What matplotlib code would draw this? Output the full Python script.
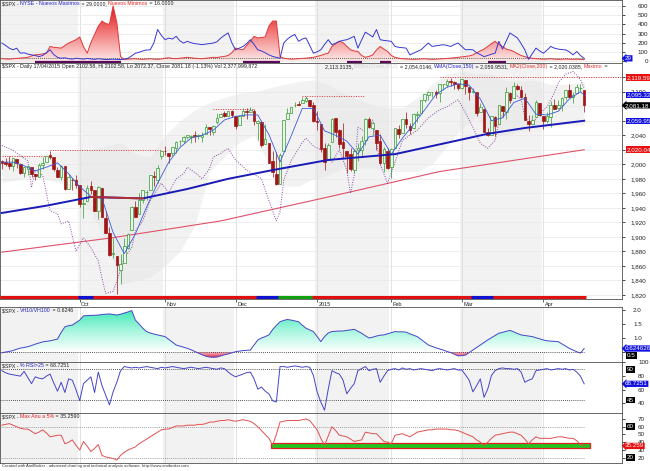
import numpy as np
import matplotlib.pyplot as plt
from matplotlib.colors import LinearSegmentedColormap
from matplotlib.patches import Rectangle
from matplotlib.transforms import blended_transform_factory, ScaledTranslation

plt.rcParams['font.family'] = ['Liberation Sans', 'DejaVu Sans']

# $SPX diario 02/09/2014 - 17/04/2015
open_ = [2004,2003,2002,1998,2007,2001,1988,1993,1996,1986,
         1982,1999,2003,2013,2010,1992,1983,1997,1966,1979,
         1978,1972,1946,1949,1970,1964,1936,1968,1926,1905,
         1877,1874,1855,1864,1885,1910,1941,1931,1951,1962,
         1964,1984,1979,2011,2019,2016,2015,2023,2032,2032,
         2038,2038,2040,2039,2038,2042,2052,2045,2058,2065,
         2070,2067,2074,2066,2054,2067,2074,2072,2074,2057,
         2058,2028,2030,2005,1986,1973,2019,2062,2070,2081,
         2083,2084,2087,2089,2082,2059,2055,2022,2006,2031,
         2064,2047,2031,2019,2014,1992,2020,2020,2034,2063,
         2050,2047,2032,2002,2019,1996,2022,2048,2043,2062,
         2053,2050,2068,2071,2089,2096,2099,2099,2098,2110,
         2109,2115,2114,2111,2105,2116,2107,2099,2100,2072,
         2076,2045,2041,2065,2055,2080,2072,2098,2091,2108,
         2103,2092,2060,2056,2065,2084,2067,2060,2065,2081,
         2077,2081,2092,2102,2092,2098,2105,2102.58]
high = [2006,2009,2011,2008,2007,2002,1996,1997,1996,1987,
        2002,2010,2012,2019,2010,1996,1999,1997,1987,1981,
        1985,1972,1952,1972,1977,1964,1970,1968,1935,1913,
        1898,1874,1876,1898,1905,1942,1950,1961,1965,1964,
        1985,1991,1999,2018,2025,2016,2024,2032,2034,2039,
        2041,2040,2046,2042,2044,2056,2052,2054,2071,2071,
        2074,2074,2075,2066,2068,2077,2077,2079,2076,2061,
        2059,2056,2030,2019,2017,2016,2061,2077,2079,2086,
        2087,2093,2094,2089,2086,2073,2055,2030,2030,2064,
        2064,2049,2057,2019,2022,2021,2029,2039,2064,2065,
        2058,2047,2042,2024,2023,2022,2050,2054,2063,2072,
        2057,2070,2073,2089,2097,2101,2100,2102,2111,2111,
        2117,2119,2115,2111,2118,2116,2107,2105,2100,2085,
        2076,2050,2066,2066,2081,2080,2107,2099,2114,2110,
        2108,2098,2068,2068,2089,2084,2067,2072,2087,2090,
        2089,2093,2102,2110,2099,2111,2111,2102.58]
low = [1994,1998,1993,1991,1995,1986,1982,1985,1983,1979,
       1982,1994,2003,2007,1991,1983,1978,1965,1966,1964,
       1968,1941,1926,1949,1959,1935,1925,1927,1906,1874,
       1871,1821,1835,1864,1883,1910,1927,1931,1947,1951,
       1964,1970,1974,2007,2013,2002,2012,2016,2025,2030,
       2035,2030,2031,2035,2031,2042,2040,2041,2056,2065,
       2065,2066,2065,2049,2054,2066,2062,2072,2054,2034,
       2024,2028,2002,1982,1972,1973,2019,2062,2070,2079,
       2081,2084,2086,2079,2058,2047,2017,1992,2006,2031,
       2038,2023,2009,1988,1991,1988,2005,2012,2026,2050,
       2041,2020,2001,1990,1994,1981,2022,2036,2043,2050,
       2042,2048,2058,2071,2086,2089,2093,2091,2086,2103,
       2106,2108,2104,2103,2104,2097,2089,2098,2066,2072,
       2044,2039,2041,2039,2055,2065,2062,2085,2091,2103,
       2091,2061,2046,2056,2065,2067,2048,2057,2052,2076,
       2076,2074,2088,2092,2084,2098,2101,2072.37]
close = [2002,2001,1998,2008,2002,1988,1996,1997,1986,1984,
         1999,2002,2011,2010,1994,1983,1998,1966,1983,1978,
         1972,1946,1946,1968,1965,1935,1969,1928,1906,1875,
         1878,1862,1863,1887,1904,1941,1927,1951,1965,1962,
         1985,1982,1995,2018,2018,2012,2024,2031,2032,2038,
         2040,2038,2039,2040,2041,2052,2049,2053,2064,2069,
         2067,2073,2068,2053,2067,2074,2072,2075,2060,2060,
         2026,2035,2002,1990,1973,2013,2061,2071,2079,2082,
         2082,2089,2091,2080,2059,2058,2021,2003,2026,2062,
         2045,2028,2023,2011,1993,2019,2023,2032,2063,2052,
         2057,2030,2002,2021,1995,2021,2050,2042,2063,2055,
         2047,2069,2069,2088,2097,2100,2100,2097,2110,2110,
         2115,2114,2111,2105,2117,2108,2099,2101,2071,2079,
         2044,2040,2066,2053,2081,2074,2100,2089,2108,2104,
         2092,2061,2056,2061,2086,2068,2060,2067,2081,2076,
         2082,2091,2102,2092,2096,2107,2105,2081.18]

month_idx = [21, 44, 63, 85, 105, 124, 146]
month_lbl = ['Oct', 'Nov', 'Dec', '2015', 'Feb', 'Mar', 'Apr']
month_edges = [0, 21, 44, 63, 85, 105, 124, 146, 168]

# NYSE nuevos maximos / nuevos minimos
new_highs = [196,170,140,122,140,85,90,75,67,60,
             48,60,90,122,70,40,30,35,25,20,
             30,25,20,28,22,18,25,20,15,18,
             20,18,15,20,30,55,85,95,110,120,
             122,200,344,280,233,250,240,270,220,196,
             215,200,190,185,178,185,190,196,210,250,
             280,307,200,122,140,159,190,233,180,122,
             110,90,67,50,40,30,196,240,270,289,
             215,240,252,170,85,100,122,180,233,178,
             195,215,225,233,250,270,141,230,315,290,
             263,344,233,225,220,215,159,150,145,141,
             67,85,105,122,160,196,159,165,172,178,
             170,159,180,196,160,122,125,122,90,70,
             48,60,75,85,215,130,220,307,280,252,
             190,122,18,80,141,110,85,120,159,140,
             130,125,122,100,67,104,60,29]
new_lows = [25,22,20,25,28,30,35,40,55,67,
            70,78,85,159,150,145,141,170,196,215,
            233,263,159,85,200,289,380,437,410,400,
            603,418,48,18,20,22,25,20,18,22,
            25,20,18,22,30,35,28,25,30,35,
            40,35,30,28,25,30,35,40,38,45,
            50,60,90,141,130,122,170,215,270,252,
            258,263,381,437,437,48,30,25,20,22,
            25,28,30,35,40,50,60,75,85,159,
            190,215,200,160,122,110,104,60,40,50,
            67,120,159,130,104,60,40,30,25,22,
            20,18,20,22,25,20,18,20,22,25,
            28,30,35,40,45,50,55,67,90,110,
            130,159,190,215,180,159,130,120,104,80,
            60,48,35,30,25,22,20,22,25,20,
            18,20,22,20,18,20,18,16]
lows_zone = [(9, 32), (65, 75), (93, 97), (102, 105), (131, 136)]

# lineas del panel de precio (puntos leidos cada pocos dias)
fast_idx = [0,3,6,9,12,15,18,21,24,27,30,33,36,39,42,45,48,51,54,57,60,63,66,69,72,75,
            78,81,84,87,90,93,96,99,102,105,108,111,114,117,120,123,126,129,132,135,138,
            141,144,147,150,153,156,157]
fast_val = [2003,2003,1998,1991,1996,2002,1987,1969,1956,1953,1906,1877,1904,1941,1974,2003,
            2023,2036,2040,2047,2061,2066,2068,2068,2041,2003,2039,2077,2077,2046,2040,2032,
            2014,2038,2040,2014,2036,2055,2075,2096,2106,2111,2109,2090,2060,2064,2085,2091,
            2069,2068,2073,2090,2100,2095.3]
wma_idx = [0, 12, 24, 31, 38, 50, 61, 73, 88, 106, 123, 131, 141, 157]
wma_val = [1933, 1943, 1955, 1954, 1953, 1966, 1980, 1992, 2006, 2014, 2033, 2042, 2050, 2059.95]
wma_red_idx = [24, 31, 38]
wma_red_val = [1955, 1954, 1953]
ma200_idx = [0, 30, 59, 88, 118, 157]
ma200_val = [1879, 1899, 1922, 1955, 1990, 2020.04]
band_idx = [0,10,18,24,28,32,36,40,44,48,52,56,60,64,68,72,76,80,84,88,92,96,100,104,108,
            112,116,120,124,128,132,136,140,144,148,152,157]
band_hi = [2015,2012,2020,2020,2025,2030,2015,2010,2040,2060,2075,2085,2092,2098,2100,2105,
           2110,2114,2116,2110,2098,2090,2082,2078,2078,2092,2110,2125,2128,2125,2125,2115,
           2115,2115,2110,2110,2113.31]
band_lo = [1975,1983,1970,1935,1895,1835,1840,1845,1860,1880,1915,1990,2010,2030,2040,2000,
           1970,1970,1980,1985,1995,1995,1995,1990,1990,1990,2000,2025,2050,2065,2040,2040,
           2045,2050,2052,2055,2054.01]
purple_idx = [0,3,7,8,9,11,13,15,16,18,20,22,23,24,26,27,28,30,31,33,35,36,38,40,43,45,47,
              49,50,53,54,56,57,59,61,63,66,70,72,74,75,76,78,81,82,84,88,89,91,93,94,95,96,
              98,100,102,104,106,108,112,115,118,120,123,125,127,129,131,133,134,136,138,
              140,141,143,145,147,149,150,152,154,156,157]
purple_val = [2026,2019,2005,1968,1992,1985,1936,1932,1918,1922,1880,1899,1892,1885,1867,
              1843,1822,1825,1839,1871,1885,1908,1922,1950,1974,1961,1980,1987,1996,1985,
              1980,1994,2010,2015,2022,2006,1992,1980,1950,1922,1935,1978,2005,2030,2036,
              2025,2015,2003,2020,1992,1960,1985,2051,2045,2061,2000,1974,2003,2033,2047,
              2064,2075,2079,2089,2071,2051,2029,2022,2033,2058,2078,2099,2089,2065,2055,
              2070,2079,2099,2112,2124,2128,2117,2105]
maximo = [(0, 12, 2011), (13, 43, 2019.3), (57, 68, 2075.8), (81, 98, 2093.5), (118, 167, 2119.59)]
sig_start = [0, 21, 25, 69, 75, 84, 127, 133]
sig_end = [21, 25, 69, 75, 84, 127, 133, 157]
sig_state = ['baja', 'neutral', 'baja', 'neutral', 'alza', 'baja', 'neutral', 'baja']

vh = [0.47,0.50,0.52,0.55,0.60,0.64,0.66,0.69,0.73,0.78,
      0.82,0.86,0.88,0.90,0.93,0.96,1.20,1.40,1.44,1.46,
      1.55,1.64,1.79,1.80,1.81,1.81,1.82,1.84,1.85,1.86,
      1.84,1.82,1.85,1.89,1.93,1.98,1.64,1.50,1.35,1.23,
      1.18,1.14,1.11,1.08,1.05,0.95,0.85,0.75,0.71,0.67,
      0.63,0.58,0.52,0.46,0.40,0.35,0.32,0.31,0.32,0.36,
      0.40,0.43,0.47,0.51,0.53,0.55,0.56,0.57,0.75,0.93,
      1.00,1.05,1.11,1.30,1.45,1.58,1.63,1.66,1.64,1.61,
      1.58,1.46,1.35,1.29,1.23,1.05,0.87,1.05,1.18,1.23,
      1.24,1.25,1.25,1.27,1.29,1.31,1.24,1.17,1.08,1.00,
      1.03,1.07,1.10,1.11,1.15,1.19,1.23,1.22,1.22,1.21,
      1.15,1.10,1.05,0.95,0.85,0.75,0.70,0.65,0.61,0.57,
      0.52,0.48,0.42,0.36,0.37,0.39,0.48,0.57,0.66,0.75,
      0.84,0.93,1.01,1.09,1.17,1.20,1.24,1.27,1.22,1.16,
      1.11,1.09,1.07,1.05,1.01,0.97,0.93,0.90,0.89,0.88,
      0.87,0.79,0.71,0.63,0.57,0.51,0.46,0.6246]
rsi = [88,85,83,82,81,80,87,78,69,79,
       77,76,80,83,70,58,71,56,76,74,
       60,44,69,74,79,56,86,66,52,38,
       57,71,88,94,93,92,93,92,93,94,
       93,92,91,93,92,93,94,93,92,91,
       92,93,92,91,92,93,92,91,90,92,
       91,86,82,79,81,83,85,86,76,61,
       64,58,54,44,42,94,94,93,94,95,
       94,93,94,93,81,57,42,30,61,88,
       85,83,74,54,62,69,88,91,94,88,
       90,91,71,80,88,90,91,89,92,90,
       91,89,90,91,90,89,88,90,91,90,
       89,90,91,89,89,82,74,57,66,76,
       49,61,81,88,91,92,91,91,90,91,
       86,71,74,76,88,89,90,91,89,90,
       91,90,91,89,90,86,80,68.7251]
maxanu = [62,63,64,62,60,58,57,57,54,51,
          53,56,52,47,48,49,49,38,40,43,
          36,30,41,35,28,32,37,23,21,20,
          19,17,23,27,30,32,34,38,41,44,
          47,50,53,56,57,57,59,61,61,61,
          62,62,62,63,63,64,66,66,67,68,
          68,69,68,67,68,69,68,67,64,60,
          55,50,45,36,50,66,67,68,68,68,
          68,69,70,68,62,56,45,36,48,60,
          55,49,48,47,44,41,42,43,53,52,
          51,51,46,41,40,38,49,50,51,49,
          47,50,53,54,55,56,56,57,57,57,
          57,56,56,55,53,51,49,47,43,40,
          36,40,45,49,50,51,52,53,53,51,
          49,44,38,43,47,45,45,45,45,46,
          47,47,46,45,45,42,37,35.259]
zone_start, zone_end, zone_lo, zone_hi = 72.7, 158.7, 32.1, 38.8

W, H = 650, 471
fig = plt.figure(figsize=(6.5, 4.71), dpi=100)
x = np.arange(len(close))
XR = 622


def panel(top, bottom):
    return fig.add_axes([0.0, 1 - bottom / H, XR / W, (bottom - top) / H])


def shade(ax, which):
    for k in which:
        ax.axvspan(month_edges[k] - 0.5, month_edges[k + 1] - 0.5, color='#f2f2f2', lw=0, zorder=0)


def grad_fill(ax, xs, y_lo, y_hi, vmin, vmax, colors, z=1):
    coll = ax.fill_between(xs, y_lo, y_hi, facecolor='none', edgecolor='none')
    cmap = LinearSegmentedColormap.from_list('g', colors)
    img = ax.imshow(np.linspace(0, 1, 256).reshape(-1, 1), extent=[xs[0], xs[-1], vmin, vmax],
                    origin='lower', aspect='auto', cmap=cmap, zorder=z, interpolation='bilinear')
    img.set_clip_path(coll.get_paths()[0], transform=ax.transData)


def style(ax, ylim, ticks, labels, hgrid=True, pad=4):
    ax.set_xlim(-0.5, 167.2)
    ax.set_ylim(*ylim)
    ax.yaxis.tick_right()
    ax.set_yticks(ticks)
    ax.set_yticklabels(labels, fontsize=4.5, color='#222222')
    ax.tick_params(axis='y', length=2, width=0.5, pad=pad)
    ax.set_xticks(month_idx)
    ax.tick_params(axis='x', bottom=False, labelbottom=False)
    ax.grid(axis='x', color='#d6d6d6', lw=0.5)
    if hgrid:
        ax.grid(axis='y', color='#e8e8e8', lw=0.5)
    ax.set_axisbelow(True)
    for s in ax.spines.values():
        s.set_color('#505050')
        s.set_linewidth(0.6)


def title(ax, parts, x0=2, y0=1.2):
    tr = ax.transAxes + ScaledTranslation(x0 / 100, -y0 / 100, fig.dpi_scale_trans)
    t = ax.text(0, 1, parts[0][0], color=parts[0][1], transform=tr, fontsize=3.8,
                va='top', ha='left', zorder=20)
    for s, c in parts[1:]:
        t = ax.annotate(s, xy=(1, 0), xycoords=t, va='bottom', ha='left', color=c,
                        fontsize=3.8, zorder=20, annotation_clip=False)


def vbox(ax, y, s, fc, arrow=False, dx=5):
    tr = blended_transform_factory(ax.transAxes, ax.transData) + \
        ScaledTranslation(dx / 100, 0, fig.dpi_scale_trans)
    ax.text(1.0, y, s, transform=tr, fontsize=4.5, color='white', va='center', ha='left',
            clip_on=False, zorder=30,
            bbox=dict(boxstyle='larrow,pad=0.1' if arrow else 'square,pad=0.12', fc=fc, ec='none'))


dots = (0, (1, 1.5))
BLUE, RED, BLACK = '#1010e0', '#e81010', '#000000'

# ---- panel 1: nuevos maximos / minimos NYSE ----
ax1 = panel(0, 63)
shade(ax1, [0, 2, 4, 6])
grad_fill(ax1, x, 0, new_lows, 0, 620, ['#fde8e8', '#f27a7a', '#e01010'], z=2)
ax1.plot(x, new_lows, color='#e03838', lw=0.7, zorder=4)
ax1.plot(x, new_highs, color='#3838d0', lw=0.7, zorder=5)
ax1.hlines(30, -0.5, 157, colors='#204020', linestyles=dots, lw=0.6, zorder=3)
for s, e in lows_zone:
    ax1.plot([s, e], [-11, -11], color='#5a0a5a', lw=1.6, solid_capstyle='butt', zorder=5)
style(ax1, (-22, 667), [0, 100, 200, 300, 400, 500, 600],
      ['0', '100', '200', '300', '400', '500', '600'], pad=17)
for lab in ax1.get_yticklabels():
    lab.set_ha('right')
title(ax1, [(r'\$SPX - ', '#202020'), ('NYSE - Nuevos Maximos', '#2020c0'),
            (' = 29.0000, ', '#202020'), ('Nuevos Minimos', '#e02020'), (' = 16.0000', '#202020')])
vbox(ax1, 29, '29', BLUE, arrow=True, dx=3)

# ---- panel 2: precio ----
ax2 = panel(63, 299)
shade(ax2, [1, 4, 6])
ax2.fill_between(band_idx, band_lo, band_hi, color='#e4e4e4', alpha=0.45, lw=0, zorder=1)
ax2.plot(ma200_idx, ma200_val, color='#e0506a', lw=0.8, zorder=3)
ax2.plot(purple_idx, purple_val, color='#8a4aa0', lw=0.7, ls=dots, zorder=3)
for s, e, lvl in maximo:
    ax2.hlines(lvl, s, e, colors='#e03030', linestyles=dots, lw=0.7, zorder=3)
o, h, l, c = map(np.array, (open_, high, low, close))
up = c >= o
ax2.vlines(x, l, h, colors=np.where(up, '#2f9a2f', '#9b1212'), lw=0.5, zorder=4)
ax2.bar(x[up], np.maximum((c - o)[up], 0.4), bottom=o[up], width=0.7, facecolor='#eef7ee',
        edgecolor='#2f9a2f', lw=0.5, zorder=5)
ax2.bar(x[~up], (o - c)[~up], bottom=c[~up], width=0.7, color='#a01515',
        edgecolor='#a01515', lw=0.5, zorder=5)
ax2.plot(fast_idx, fast_val, color='#3a5ad8', lw=0.6, zorder=6)
ax2.plot(wma_idx, wma_val, color='#1a1ab8', lw=1.4, zorder=6)
ax2.plot(wma_red_idx, wma_red_val, color='#b03030', lw=1.4, zorder=7)
sig_col = {'baja': '#e01010', 'neutral': '#1010d0', 'alza': '#10a010'}
bt = blended_transform_factory(ax2.transData, ax2.transAxes)
for s, e, st in zip(sig_start, sig_end, sig_state):
    ax2.plot([s - 0.5, e + 0.5], [0.007, 0.007], transform=bt, color=sig_col[st], lw=2.2,
             solid_capstyle='butt', zorder=8)
yt = list(range(1820, 2121, 20))
hidden = {2020, 2060, 2080, 2120}  # tapados por las etiquetas de valor
style(ax2, (1814.5, 2139.5), yt, ['' if v in hidden else f'{v:,}' for v in yt])
ax2.tick_params(axis='x', bottom=True, labelbottom=True, length=2, width=0.5, pad=0.5,
                labelsize=4, colors='#222222')
ax2.set_xticklabels(month_lbl)
for lab in ax2.get_xticklabels():
    lab.set_ha('left')
    lab.set_transform(lab.get_transform() + ScaledTranslation(1.5 / 100, 0, fig.dpi_scale_trans))
title(ax2, [(r'\$SPX - Daily 17/04/2015 Open 2102.58, Hi 2102.58, Lo 2072.37, Close 2081.18 (-1.13%) '
             r'Vol 2,377,999,872', '#202020')])
title(ax2, [('2,113.3135, ', '#202020'), ('BBBot(Close,20,2) ', '#d4d4d4'),
            ('= 2,054.0146, ', '#202020'), ('WMA(Close,150)', '#2020c0'),
            (' = 2,059.9531, ', '#202020'), ('MA2(Close,200)', '#e03030'),
            (' = 2,020.0385, ', '#202020'), ('Maximo', '#e03030'), (' =', '#202020')], x0=325)
vbox(ax2, 2119.59, '2,119.59', RED)
vbox(ax2, 2095.32, '2,095.32', BLUE)
vbox(ax2, 2081.18, '2,081.18', BLACK, arrow=True, dx=3)
vbox(ax2, 2059.95, '2,059.95', BLUE)
vbox(ax2, 2020.04, '2,020.04', RED)

# ---- panel 3: VH10/VH100 ----
ax3 = panel(307, 362)
shade(ax3, [0, 2, 4, 6])
vh_a = np.array(vh)
grad_fill(ax3, x, 0.5, np.maximum(vh_a, 0.5), 0.5, 2.0, ['#ffffff', '#a6f6de', '#3ee8b6'], z=2)
grad_fill(ax3, x, np.minimum(vh_a, 0.5), 0.5, 0.28, 0.5, ['#e01c40', '#fbd2da'], z=2)
ax3.plot(x, vh, color='#4545c8', lw=0.7, zorder=4)
ax3.hlines(0.5, -0.5, 157, colors='#202020', linestyles=dots, lw=0.6, zorder=3)
style(ax3, (0.143, 2.107), [0.5, 1.0, 1.5, 2.0], ['', '1.0', '1.5', '2.0'], hgrid=False, pad=6)
title(ax3, [(r'\$SPX - ', '#202020'), ('VH10/VH100', '#2020c0'), (' = 0.6246', '#202020')])
vbox(ax3, 0.37, '0.5', BLACK)
vbox(ax3, 0.6246, '0.624626', BLUE, arrow=True, dx=3)

# ---- panel 4: % RSI>25 ----
ax4 = panel(362, 413)
shade(ax4, [0, 2, 4, 6])
ax4.plot(x, rsi, color='#4545c8', lw=0.7, zorder=4)
ax4.hlines([90, 45], -0.5, 157, colors='#202020', linestyles=dots, lw=0.6, zorder=3)
style(ax4, (26, 100.7), [40, 60, 80, 100], ['40', '60', '80', '100'], hgrid=False, pad=9.5)
title(ax4, [(r'\$SPX - ', '#202020'), ('% RSI>25', '#2020c0'), (' = 68.7251', '#202020')])
vbox(ax4, 90, '90', BLACK)
vbox(ax4, 45, '45', BLACK)
vbox(ax4, 68.7251, '68.7251', BLUE, arrow=True, dx=3)

# ---- panel 5: Max Anu a 5% ----
ax5 = panel(413, 463)
shade(ax5, [0, 2, 4, 6])
ax5.add_patch(Rectangle((zone_start, zone_lo), zone_end - zone_start, zone_hi - zone_lo,
                        fc='#22c422', ec='#dd2020', lw=0.9, zorder=2))
ax5.plot(x, maxanu, color='#e05050', lw=0.7, zorder=4)
ax5.hlines([60, 20], -0.5, 157, colors='#808080', linestyles=dots, lw=0.6, zorder=3)
style(ax5, (13.2, 77.7), [20, 30, 40, 50, 60, 70], ['20', '30', '40', '50', '60', '70'],
      hgrid=False, pad=9.5)
title(ax5, [(r'\$SPX - ', '#202020'), ('Max Anu a 5%', '#e02020'), (' = 35.2590', '#202020')])
vbox(ax5, 60, '60', BLACK)
vbox(ax5, 20, '20', BLACK)
vbox(ax5, 35.259, '35.259', RED, arrow=True, dx=3)

fig.text(2 / W, 1 - 466 / H, 'Created with AmiBroker - advanced charting and technical analysis '
         'software. http://www.amibroker.com', fontsize=3, va='center', color='#333333')

fig.savefig('out.png', dpi=100)
